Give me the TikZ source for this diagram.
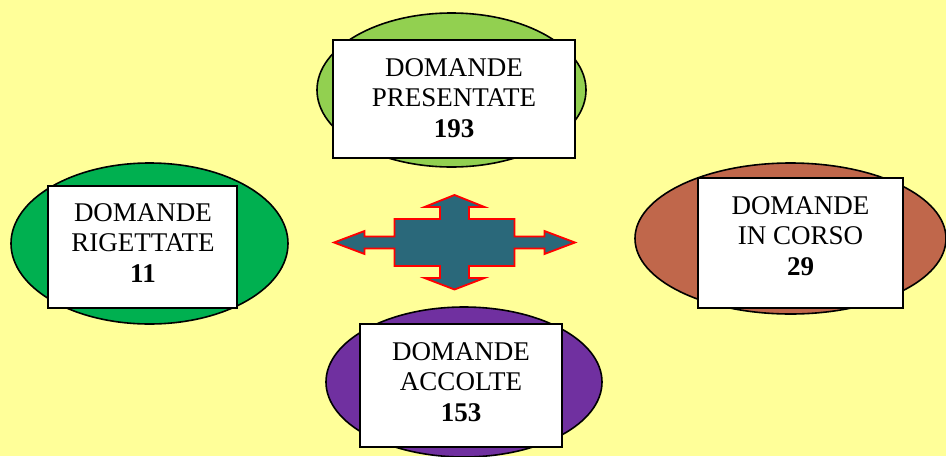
\documentclass[tikz,border=0pt]{standalone}
\usepackage{fontspec}
\setmainfont{Liberation Serif}
\usetikzlibrary{shapes.geometric}
\definecolor{bgyellow}{RGB}{255,255,153}
\definecolor{lightgreen}{RGB}{146,208,80}
\definecolor{darkgreen}{RGB}{0,176,80}
\definecolor{brownred}{RGB}{192,103,75}
\definecolor{purp}{RGB}{112,48,160}
\definecolor{teal}{RGB}{42,104,122}
\tikzset{
  oval/.style={draw=black, line width=1.6pt},
  box/.style={draw=black, line width=1.8pt, fill=white, rectangle},
  txt/.style={align=center, font=\fontsize{27}{30.5}\selectfont, inner sep=0pt},
}
\begin{document}
\begin{tikzpicture}[x=1pt,y=-1pt]
\fill[bgyellow] (0,0) rectangle (946,456);
\useasboundingbox (0,0) rectangle (946,456);
\begin{scope}
\clip (0,0) rectangle (946,456);
% ellipses
\fill[lightgreen] (451.5,90) ellipse [x radius=134.5, y radius=77];
\draw[oval] (451.5,90) ellipse [x radius=134.5, y radius=77];
\fill[darkgreen] (149.5,243.5) ellipse [x radius=138.5, y radius=80.5];
\draw[oval] (149.5,243.5) ellipse [x radius=138.5, y radius=80.5];
\fill[brownred] (790.5,238.5) ellipse [x radius=155.5, y radius=75.5];
\draw[oval] (790.5,238.5) ellipse [x radius=155.5, y radius=75.5];
\fill[purp] (464,382) ellipse [x radius=138, y radius=75];
\draw[oval] (464,382) ellipse [x radius=138, y radius=75];
\end{scope}
% boxes
\node[box, minimum width=242pt, minimum height=118pt] (bp) at (454,99) {};
\node[txt] (tp) at (454,98) {DOMANDE\\PRESENTATE\\\textbf{193}};
\node[box, minimum width=189pt, minimum height=122pt] (br) at (142.5,247) {};
\node[txt] (tr) at (143,243) {DOMANDE\\RIGETTATE\\\textbf{11}};
\node[box, minimum width=205pt, minimum height=130pt] (bc) at (800.5,243) {};
\node[txt] (tc) at (800.5,236) {DOMANDE\\IN CORSO\\\textbf{29}};
\node[box, minimum width=202pt, minimum height=123pt] (ba) at (461,385.5) {};
\node[txt] (ta) at (461,382) {DOMANDE\\ACCOLTE\\\textbf{153}};
% central four-way arrow
\begin{scope}[shift={(454.5,242.5)}]
\draw[fill=teal, draw=red, line width=1.8pt, line join=miter]
  (-120.5,0) -- (-90,-11.5) -- (-90,-6) -- (-60,-6) -- (-60,-23.5)
  -- (-14.5,-23.5) -- (-14.5,-35.5) -- (-30,-35.5) -- (0,-47.5)
  -- (30,-35.5) -- (14.5,-35.5) -- (14.5,-23.5) -- (60,-23.5)
  -- (60,-6) -- (90,-6) -- (90,-11.5) -- (120.5,0)
  -- (90,11.5) -- (90,6) -- (60,6) -- (60,23.5)
  -- (14.5,23.5) -- (14.5,35.5) -- (30,35.5) -- (0,47)
  -- (-30,35.5) -- (-14.5,35.5) -- (-14.5,23.5) -- (-60,23.5)
  -- (-60,6) -- (-90,6) -- (-90,11.5) -- cycle;
\end{scope}
\end{tikzpicture}
\end{document}
